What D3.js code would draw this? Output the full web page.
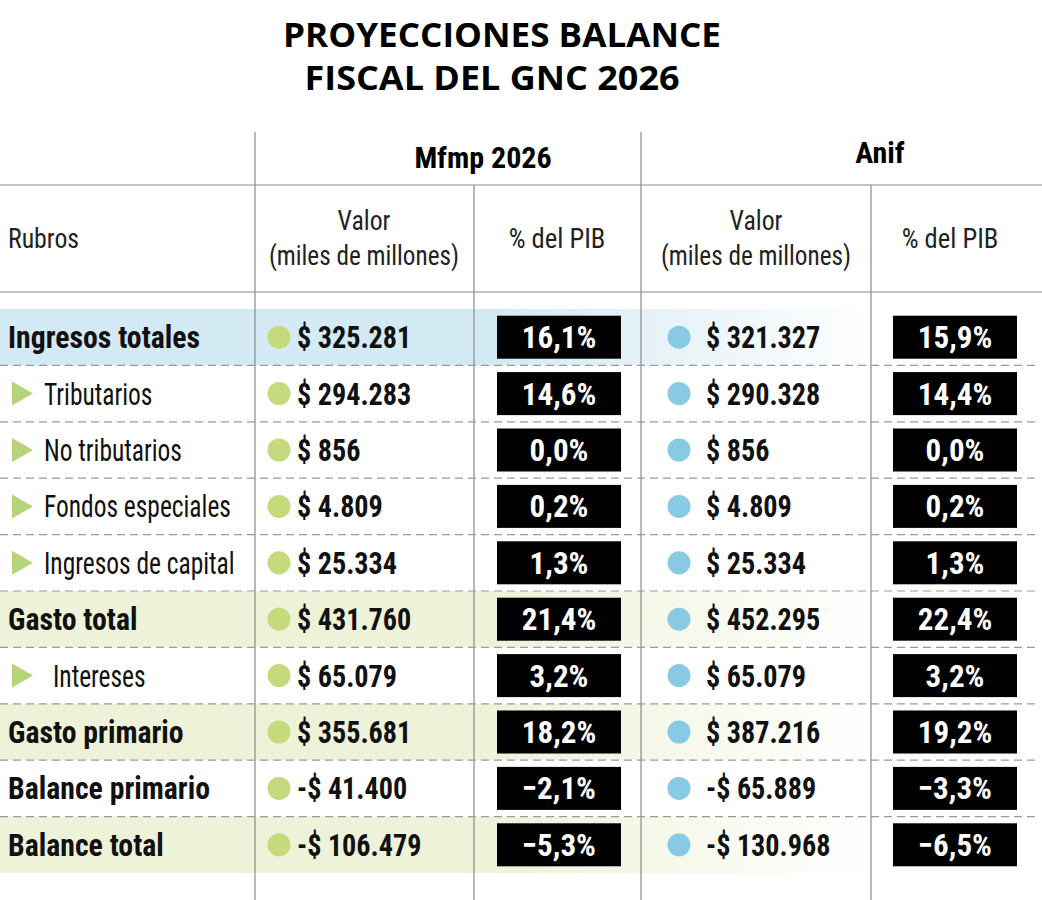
<!DOCTYPE html>
<html>
<head>
<meta charset="utf-8">
<script src="https://cdn.jsdelivr.net/npm/d3@7"></script>
<style>
  body { margin: 0; background: #fff; }
  svg text { font-family: "Liberation Sans Narrow", "Roboto Condensed", "DejaVu Sans Condensed", sans-serif; }
  svg text.titulo { font-family: "Open Sans", "Liberation Sans", sans-serif; }
</style>
</head>
<body>
<div id="chart"></div>
<script>
// data
const rubros = ["Ingresos totales", "Tributarios", "No tributarios", "Fondos especiales",
  "Ingresos de capital", "Gasto total", "Intereses", "Gasto primario", "Balance primario", "Balance total"];
// row kind: shaded totals are bold, sub rows carry a triangle
const tipo = ["azul", "sub", "sub", "sub", "sub", "verde", "sub", "verde", "total", "verde"];
const mfmpValor = [325281, 294283, 856, 4809, 25334, 431760, 65079, 355681, -41400, -106479];
const mfmpPib = [16.1, 14.6, 0.0, 0.2, 1.3, 21.4, 3.2, 18.2, -2.1, -5.3];
const anifValor = [321327, 290328, 856, 4809, 25334, 452295, 65079, 387216, -65889, -130968];
const anifPib = [15.9, 14.4, 0.0, 0.2, 1.3, 22.4, 3.2, 19.2, -3.3, -6.5];

const width = 1042, height = 900;
const es = d3.formatLocale({decimal: ",", thousands: ".", grouping: [3], currency: ["$", ""]});
const fmtVal = v => (v < 0 ? "-" : "") + "$ " + es.format(",d")(Math.abs(v));
const fmtPib = v => es.format(".1f")(v) + "%";

// narrow the glyphs a bit, the original face is a condensed one
function squeeze(sel, k) {
  sel.each(function() {
    const w = this.getComputedTextLength();
    d3.select(this).attr("textLength", w * k).attr("lengthAdjust", "spacingAndGlyphs");
  });
}

const svg = d3.select("#chart").append("svg")
  .attr("width", width).attr("height", height);

const defs = svg.append("defs");
function fade(id, color) {
  const g = defs.append("linearGradient").attr("id", id)
    .attr("gradientUnits", "userSpaceOnUse").attr("x1", 0).attr("x2", 880).attr("y1", 0).attr("y2", 0);
  g.append("stop").attr("offset", "0%").attr("stop-color", color);
  g.append("stop").attr("offset", "55%").attr("stop-color", color);
  g.append("stop").attr("offset", "100%").attr("stop-color", "#fff");
}
fade("gAzul", "#d3e9f3");
fade("gVerde", "#eef2d8");

// title
svg.append("text").attr("class", "titulo").attr("x", 502).attr("y", 47).attr("text-anchor", "middle")
  .attr("font-size", 34).attr("font-weight", "bold")
  .attr("textLength", 438).attr("lengthAdjust", "spacingAndGlyphs").text("PROYECCIONES BALANCE");
svg.append("text").attr("class", "titulo").attr("x", 492).attr("y", 90).attr("text-anchor", "middle")
  .attr("font-size", 34).attr("font-weight", "bold")
  .attr("textLength", 375).attr("lengthAdjust", "spacingAndGlyphs").text("FISCAL DEL GNC 2026");

const y = d3.scaleBand().domain(d3.range(rubros.length)).range([309, 873]);
const cy = i => y(i) + y.bandwidth() / 2;

// row shading
svg.append("g").selectAll("rect")
  .data(d3.range(rubros.length).filter(i => tipo[i] === "azul" || tipo[i] === "verde"))
  .join("rect")
  .attr("x", 0).attr("y", i => y(i)).attr("width", width).attr("height", y.bandwidth())
  .attr("fill", i => tipo[i] === "azul" ? "url(#gAzul)" : "url(#gVerde)");

// grid
const grid = svg.append("g").attr("stroke", "#8a8a8a").attr("stroke-width", 1.2);
[[255, 132], [641, 132], [474, 185], [871, 185]].forEach(([x, y0]) =>
  grid.append("line").attr("x1", x).attr("x2", x).attr("y1", y0).attr("y2", height));
[185, 292].forEach(yy =>
  grid.append("line").attr("x1", 0).attr("x2", width).attr("y1", yy).attr("y2", yy));
svg.append("g").selectAll("line").data(d3.range(1, rubros.length)).join("line")
  .attr("x1", 0).attr("x2", 1040).attr("y1", i => y(i)).attr("y2", i => y(i))
  .attr("stroke", "#9a9a9a").attr("stroke-width", 1.2).attr("stroke-dasharray", "8,5");

// headers
svg.append("text").attr("x", 483).attr("y", 168).attr("text-anchor", "middle")
  .attr("font-size", 30).attr("font-weight", "bold").text("Mfmp 2026");
svg.append("text").attr("x", 880).attr("y", 163).attr("text-anchor", "middle")
  .attr("font-size", 30).attr("font-weight", "bold").text("Anif");

const sub = svg.append("g").attr("font-size", 28).attr("fill", "#222");
sub.append("text").attr("x", 8).attr("y", 248).text("Rubros").call(squeeze, 0.92);
[364, 756].forEach(x => {
  sub.append("text").attr("x", x).attr("y", 230).attr("text-anchor", "middle").text("Valor").call(squeeze, 0.92);
  sub.append("text").attr("x", x).attr("y", 265).attr("text-anchor", "middle").text("(miles de millones)").call(squeeze, 0.9);
});
[557, 950].forEach(x =>
  sub.append("text").attr("x", x).attr("y", 248).attr("text-anchor", "middle").text("% del PIB").call(squeeze, 0.95));

// row labels
const rows = svg.append("g").selectAll("g").data(d3.range(rubros.length)).join("g")
  .attr("transform", i => `translate(0,${cy(i)})`);

rows.filter(i => tipo[i] === "sub").append("path")
  .attr("d", "M12,-12L33,0L12,12Z").attr("fill", "#b6d47a");

rows.filter(i => tipo[i] !== "sub").append("text")
  .attr("x", 8).attr("y", 11)
  .attr("font-size", 32).attr("font-weight", "bold").attr("fill", "#111")
  .text(i => rubros[i]).call(squeeze, 0.93);
rows.filter(i => tipo[i] === "sub").append("text")
  .attr("x", i => rubros[i] === "Intereses" ? 53 : 44).attr("y", 11)
  .attr("font-size", 31).attr("fill", "#111")
  .text(i => rubros[i]).call(squeeze, 0.82);

// value columns
const cols = [
  {valor: mfmpValor, pib: mfmpPib, dot: 279, text: 297, color: "#c6d97c", box: 497},
  {valor: anifValor, pib: anifPib, dot: 679, text: 706, color: "#88c9e3", box: 893}
];
cols.forEach(c => {
  rows.append("circle").attr("cx", c.dot).attr("cy", 0).attr("r", 11.5).attr("fill", c.color);
  rows.append("text").attr("x", c.text).attr("y", 11)
    .attr("font-size", 32).attr("font-weight", "bold").attr("fill", "#111")
    .text(i => fmtVal(c.valor[i])).call(squeeze, 0.88);
  rows.append("rect").attr("x", c.box).attr("y", -21.5).attr("width", 124).attr("height", 43)
    .attr("fill", "#000");
  rows.append("text").attr("x", c.box + 62).attr("y", 11).attr("text-anchor", "middle")
    .attr("font-size", 32).attr("font-weight", "bold").attr("fill", "#fff")
    .text(i => fmtPib(c.pib[i])).call(squeeze, 0.97);
});
</script>
</body>
</html>
